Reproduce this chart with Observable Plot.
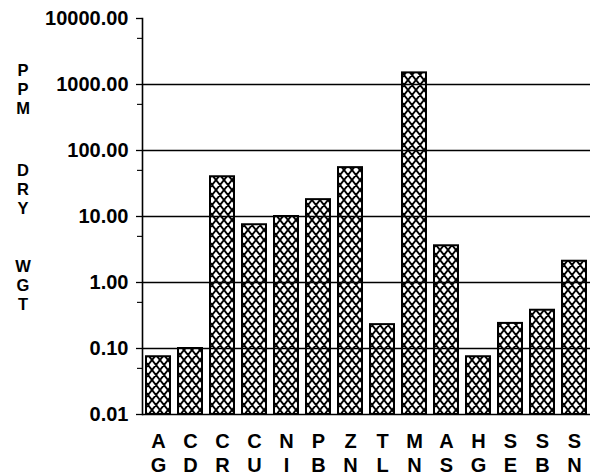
<!DOCTYPE html>
<html>
<head>
<meta charset="utf-8">
<script src="https://cdn.jsdelivr.net/npm/d3@7"></script>
<script src="https://cdn.jsdelivr.net/npm/@observablehq/plot@0.6"></script>
<style>
  html, body { margin: 0; padding: 0; background: #fff; }
  #chart svg { display: block; }
</style>
</head>
<body>
<div id="chart"></div>
<script>
const categories = ["AG","CD","CR","CU","NI","PB","ZN","TL","MN","AS","HG","SE","SB","SN"];
const values = [0.075, 0.10, 40, 7.5, 10, 18, 55, 0.23, 1500, 3.6, 0.075, 0.24, 0.38, 2.1];
const majorTicks = [0.01, 0.1, 1, 10, 100, 1000, 10000];
const minorTicks = [0.05, 0.5, 5, 50, 500, 5000];
const gridValues = [0.1, 1, 10, 100, 1000];
const yLabelWords = ["PPM", "DRY", "WGT"];

const data = categories.map((c, i) => ({cat: c, val: values[i]}));
const FONT = "'Liberation Sans', Arial, sans-serif";

const plot = Plot.plot({
  width: 597,
  height: 475,
  marginLeft: 142,
  marginRight: 7,
  marginTop: 18,
  marginBottom: 61,
  style: {fontFamily: FONT, fontSize: "20px", fontWeight: "bold", background: "#fff", color: "#000"},
  x: {type: "band", domain: categories, paddingInner: 0.25, paddingOuter: 0.125, axis: null},
  y: {type: "log", domain: [0.01, 10000], axis: null},
  marks: [
    Plot.barY(data, {x: "cat", y1: 0.01, y2: "val", fill: "url(#xhatch)", stroke: "#000", strokeWidth: 2}),
    Plot.ruleY(gridValues, {stroke: "#000", strokeWidth: 1.3}),
    Plot.ruleY([0.01], {stroke: "#000", strokeWidth: 1.6}),
    Plot.axisY({ticks: majorTicks, label: null, tickSize: 6, tickPadding: 8, tickFormat: d => d.toFixed(2), stroke: "#000", strokeWidth: 1.3, fill: "#000"}),
    Plot.axisY({ticks: minorTicks, label: null, tickSize: 5, tickFormat: () => "", stroke: "#000", strokeWidth: 1.1}),
    Plot.frame({anchor: "left", stroke: "#000", strokeWidth: 1.6}),
    Plot.text(categories, {x: d => d, frameAnchor: "bottom", dy: 16, lineAnchor: "top", lineHeight: 1.22,
      text: d => d[0] + "\n" + d[1], fill: "#000", fontSize: 20, fontWeight: "bold"})
  ]
});

document.getElementById("chart").appendChild(plot);

const svg = d3.select(plot);
const defs = svg.insert("defs", ":first-child");
const pat = defs.append("pattern")
  .attr("id", "xhatch")
  .attr("patternUnits", "userSpaceOnUse")
  .attr("width", 8).attr("height", 10);
pat.append("rect").attr("width", 8).attr("height", 10).attr("fill", "#fff");
let pathD = "";
for (const ox of [-8, 0, 8]) for (const oy of [-10, 0, 10]) {
  pathD += `M${ox},${oy}L${ox + 8},${oy + 10}M${ox + 8},${oy}L${ox},${oy + 10}`;
}
pat.append("path").attr("d", pathD).attr("stroke", "#000").attr("stroke-width", 1.9).attr("fill", "none");

// vertical stacked y-axis title, one text element with a tspan per letter
const wordCenters = [89, 189, 285];
const letterStep = 19.2;
const t = svg.append("text")
  .attr("font-family", FONT).attr("font-size", 16.5).attr("font-weight", "bold")
  .attr("text-anchor", "middle").attr("fill", "#000");
yLabelWords.forEach((w, wi) => {
  [...w].forEach((ch, ci) => {
    t.append("tspan").attr("x", 23).attr("y", wordCenters[wi] + (ci - 1) * letterStep + 6).text(ch);
  });
});
</script>
</body>
</html>
